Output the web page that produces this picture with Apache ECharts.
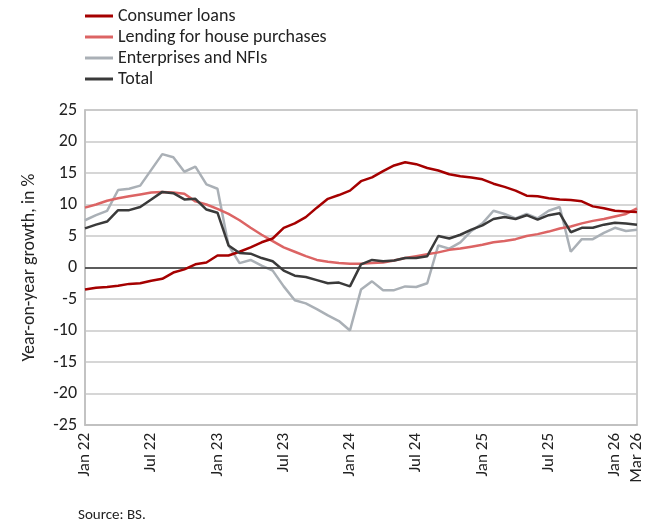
<!DOCTYPE html>
<html>
<head>
    <meta charset="utf-8">
    <title>Loan growth</title>
    <script src="https://cdn.jsdelivr.net/npm/echarts@6/dist/echarts.min.js"></script>
    <style>body{margin:0;background:#fff;}</style>
</head>
<body>
<div id="chart1" style="width:651px;height:532px;"></div>
<script type="text/javascript">
    // monthly, Jan 22 .. Mar 26
    var months = [];
    var yrs = ['22', '23', '24', '25', '26'];
    var mn = ['Jan', 'Feb', 'Mar', 'Apr', 'May', 'Jun', 'Jul', 'Aug', 'Sep', 'Oct', 'Nov', 'Dec'];
    for (var i = 0; i < 51; i++) {
        months.push(mn[i % 12] + ' ' + yrs[Math.floor(i / 12)]);
    }

    var consumer = [-3.5, -3.2, -3.1, -2.9, -2.6, -2.5, -2.1, -1.8, -0.8, -0.3, 0.5, 0.8, 1.9, 1.9, 2.5, 3.2, 4.0, 4.6, 6.3, 7.0, 8.0, 9.5, 10.9, 11.5, 12.2, 13.7, 14.3, 15.3, 16.2, 16.7, 16.4, 15.8, 15.4, 14.8, 14.5, 14.3, 14.0, 13.3, 12.8, 12.2, 11.4, 11.3, 11.0, 10.8, 10.7, 10.5, 9.7, 9.4, 9.0, 8.9, 8.8];
    var house = [9.5, 10.0, 10.6, 11.0, 11.3, 11.6, 11.9, 12.0, 11.9, 11.7, 10.5, 10.0, 9.3, 8.5, 7.5, 6.3, 5.2, 4.2, 3.2, 2.5, 1.8, 1.2, 0.9, 0.7, 0.6, 0.6, 0.7, 0.8, 1.1, 1.5, 1.8, 2.1, 2.4, 2.8, 3.0, 3.3, 3.6, 4.0, 4.2, 4.5, 5.0, 5.3, 5.7, 6.2, 6.5, 7.0, 7.4, 7.7, 8.1, 8.5, 9.4];
    var enterprises = [7.5, 8.3, 9.0, 12.3, 12.5, 13.0, 15.5, 18.0, 17.5, 15.2, 16.0, 13.2, 12.5, 3.5, 0.7, 1.2, 0.3, -0.5, -3.0, -5.2, -5.7, -6.6, -7.6, -8.5, -10.0, -3.5, -2.2, -3.6, -3.6, -3.0, -3.1, -2.5, 3.5, 3.0, 4.0, 5.8, 7.0, 9.0, 8.5, 7.8, 8.5, 7.8, 9.0, 9.6, 2.5, 4.5, 4.5, 5.5, 6.3, 5.8, 6.0];
    var total = [6.2, 6.8, 7.3, 9.1, 9.1, 9.6, 10.8, 12.0, 11.8, 10.8, 10.9, 9.2, 8.7, 3.5, 2.3, 2.2, 1.5, 1.0, -0.5, -1.3, -1.5, -2.0, -2.5, -2.4, -3.0, 0.5, 1.2, 1.0, 1.1, 1.5, 1.5, 1.8, 5.0, 4.6, 5.2, 6.0, 6.7, 7.7, 8.0, 7.7, 8.3, 7.6, 8.3, 8.6, 5.6, 6.3, 6.3, 6.8, 7.1, 7.0, 6.8];

    var myChart1 = echarts.init(document.getElementById('chart1'));
    var font = 'Carlito, "Open Sans", sans-serif';

    function line(name, data, color, z) {
        return {name: name, type: 'line', data: data, symbol: 'none', z: z,
            lineStyle: {color: color, width: 2.5}, itemStyle: {color: color}};
    }

    var s = [
        line('Consumer loans', consumer, '#a50000', 5),
        line('Lending for house purchases', house, '#dc6464', 4),
        line('Enterprises and NFIs', enterprises, '#aab0b6', 3),
        line('Total', total, '#3a3a3a', 6)
    ];
    s[0].markLine = {symbol: 'none', silent: true, label: {show: false},
        lineStyle: {color: '#333', width: 1.5, type: 'solid'}, data: [{yAxis: 0}]};

    myChart1.setOption({
        animation: false,
        textStyle: {fontFamily: font},
        legend: {
            orient: 'vertical', left: 80, top: 2, itemGap: 3,
            icon: 'rect', itemWidth: 28, itemHeight: 3,
            textStyle: {fontSize: 18, color: '#222', fontFamily: font},
            data: ['Consumer loans', 'Lending for house purchases', 'Enterprises and NFIs', 'Total']
        },
        grid: {left: 85, right: 14, top: 110, bottom: 107, show: true, borderColor: '#bfbfbf', borderWidth: 1.5},
        xAxis: {
            type: 'category', data: months, boundaryGap: false,
            axisLine: {onZero: false, lineStyle: {color: '#bfbfbf', width: 1.5}},
            axisTick: {show: false},
            axisLabel: {
                rotate: 90, fontSize: 17, color: '#222', margin: 8,
                interval: function (i) { return i % 6 === 0 || i === 50; }
            }
        },
        yAxis: {
            type: 'value', min: -25, max: 25, interval: 5,
            name: 'Year-on-year growth, in %', nameLocation: 'middle', nameGap: 47,
            nameTextStyle: {fontSize: 18, color: '#222'},
            axisLine: {show: true, lineStyle: {color: '#bfbfbf', width: 1.5}},
            axisTick: {show: false},
            axisLabel: {fontSize: 18, color: '#222'},
            splitLine: {lineStyle: {color: '#c8c8c8', width: 1.5}}
        },
        graphic: [{type: 'text', left: 78, top: 508,
            style: {text: 'Source: BS.', fontSize: 15, fill: '#222', fontFamily: font}}],
        series: s
    });
</script>
</body>
</html>
